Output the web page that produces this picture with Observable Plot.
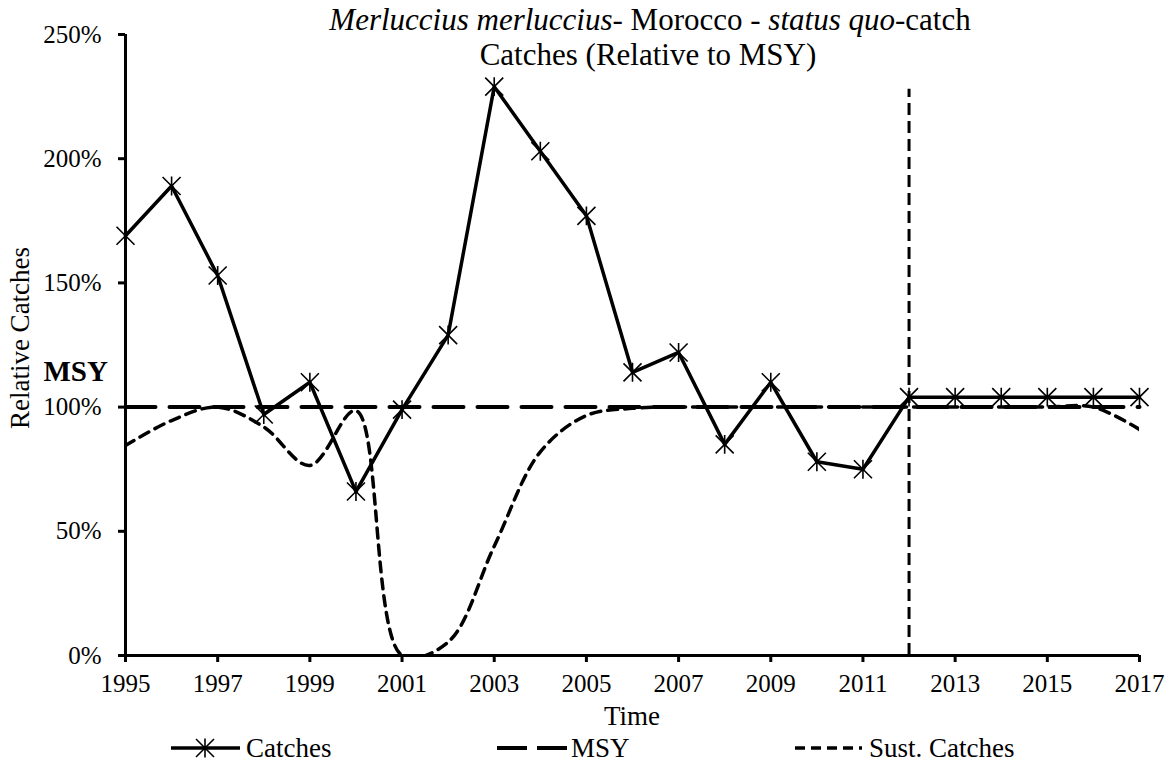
<!DOCTYPE html>
<html>
<head>
<meta charset="utf-8">
<script src="https://cdn.jsdelivr.net/npm/d3@7"></script>
<script src="https://cdn.jsdelivr.net/npm/@observablehq/plot@0.6"></script>
<style>
  html, body { margin: 0; padding: 0; background: #fff; }
  #chart { width: 1173px; height: 767px; }
</style>
</head>
<body>
<div id="chart"></div>
<script>
// ---- data ----
const years = [1995,1996,1997,1998,1999,2000,2001,2002,2003,2004,2005,2006,2007,2008,2009,2010,2011,2012,2013,2014,2015,2016,2017];
const catches = [1.69,1.89,1.53,0.97,1.10,0.66,0.99,1.29,2.29,2.03,1.77,1.14,1.22,0.85,1.10,0.78,0.75,1.04,1.04,1.04,1.04,1.04,1.04];
const sustCatches = [0.845,0.946,1.00,0.92,0.765,0.986,0.0,0.054,0.44,0.82,0.966,0.995,1.00,1.00,1.00,1.00,1.00,1.00,1.00,1.00,1.00,1.00,0.91];
const msy = [1,1,1,1,1,1,1,1,1,1,1,1,1,1,1,1,1,1,1,1,1,1,1];
const xTicks = [1995,1997,1999,2001,2003,2005,2007,2009,2011,2013,2015,2017];
const yTicks = [0,0.5,1.0,1.5,2.0,2.5];
const currentYear = 2012;
const currentLineTop = 2.28;
const legendItems = ["Catches", "MSY", "Sust. Catches"];

const rows = years.map((yr, i) => ({year: yr, catches: catches[i], sust: sustCatches[i], msy: msy[i]}));

// star marker (X with a vertical bar)
const star = {
  draw(ctx, size) {
    const r = Math.sqrt(size / Math.PI);
    ctx.moveTo(-r, -r); ctx.lineTo(r, r);
    ctx.moveTo(-r, r); ctx.lineTo(r, -r);
    ctx.moveTo(0, -r * 1.05); ctx.lineTo(0, r * 1.05);
  }
};

const FONT = "'Liberation Serif', 'Times New Roman', Times, serif";

const chart = Plot.plot({
  width: 1173,
  height: 767,
  marginLeft: 125,
  marginRight: 34,
  marginTop: 34,
  marginBottom: 112,
  style: {fontFamily: FONT, fontSize: "25px", color: "#000", background: "#fff"},
  x: {domain: [1995, 2017]},
  y: {domain: [0, 2.5]},
  marks: [
    Plot.line(rows, {x: "year", y: "msy", stroke: "#000", strokeWidth: 4, strokeDasharray: "30,14", strokeLinecap: "round"}),
    Plot.line(rows, {x: "year", y: "sust", stroke: "#000", strokeWidth: 3.5, strokeDasharray: "10,7", curve: "catmull-rom", clip: true}),
    Plot.ruleX([currentYear], {y1: 0, y2: currentLineTop, stroke: "#000", strokeWidth: 3, strokeDasharray: "12,6"}),
    Plot.line(rows, {x: "year", y: "catches", stroke: "#000", strokeWidth: 3.5}),
    Plot.dot(rows, {x: "year", y: "catches", symbol: star, r: 9, stroke: "#000", strokeWidth: 1.6, fill: "none"}),
    Plot.ruleX([1995], {stroke: "#000", strokeWidth: 3}),
    Plot.ruleY([0], {stroke: "#000", strokeWidth: 3}),
    Plot.axisX({ticks: xTicks, tickFormat: d3.format("d"), tickSize: 7, tickPadding: 12, strokeWidth: 3, label: null, fontSize: 25}),
    Plot.axisY({ticks: yTicks, tickFormat: d3.format(".0%"), tickSize: 7, tickPadding: 17, strokeWidth: 3, label: null, fontSize: 25}),
    Plot.text(["MSY"], {x: 1995, y: 1.0, text: d => d, dx: -82, dy: -35, textAnchor: "start", fontWeight: "bold", fontSize: 29})
  ]
});

document.getElementById("chart").appendChild(chart);

const svg = d3.select(chart);

// title
const t1 = svg.append("text").attr("x", 650).attr("y", 30).attr("text-anchor", "middle")
  .style("font-family", FONT).style("font-size", "31px").attr("fill", "#000");
t1.append("tspan").attr("font-style", "italic").text("Merluccius merluccius");
t1.append("tspan").text("- Morocco - ");
t1.append("tspan").attr("font-style", "italic").text("status quo");
t1.append("tspan").text("-catch");
svg.append("text").attr("x", 648).attr("y", 65).attr("text-anchor", "middle")
  .style("font-family", FONT).style("font-size", "31px").attr("fill", "#000")
  .text("Catches (Relative to MSY)");

// y label
svg.append("text").attr("transform", "translate(29,338) rotate(-90)").attr("text-anchor", "middle")
  .style("font-family", FONT).style("font-size", "27px").attr("fill", "#000")
  .text("Relative Catches");

// x label
svg.append("text").attr("x", 632).attr("y", 725).attr("text-anchor", "middle")
  .style("font-family", FONT).style("font-size", "27px").attr("fill", "#000")
  .text("Time");

// legend
const ly = 748;
const lg = svg.append("g");
lg.append("line").attr("x1", 171).attr("x2", 240).attr("y1", ly).attr("y2", ly).attr("stroke", "#000").attr("stroke-width", 3.5);
lg.append("path").attr("transform", `translate(205,${ly})`).attr("d", d3.symbol(star, Math.PI * 81)()).attr("stroke", "#000").attr("stroke-width", 1.6).attr("fill", "none");
lg.append("text").attr("x", 246).attr("y", ly + 9).text(legendItems[0]);
lg.append("line").attr("x1", 497).attr("x2", 567).attr("y1", ly).attr("y2", ly).attr("stroke", "#000").attr("stroke-width", 4).attr("stroke-dasharray", "30,10");
lg.append("text").attr("x", 571).attr("y", ly + 9).text(legendItems[1]);
lg.append("line").attr("x1", 795).attr("x2", 862).attr("y1", ly).attr("y2", ly).attr("stroke", "#000").attr("stroke-width", 3.5).attr("stroke-dasharray", "10,6");
lg.append("text").attr("x", 869).attr("y", ly + 9).text(legendItems[2]);
lg.selectAll("text").attr("text-anchor", "start").style("font-family", FONT).style("font-size", "27px").attr("fill", "#000");
</script>
</body>
</html>
